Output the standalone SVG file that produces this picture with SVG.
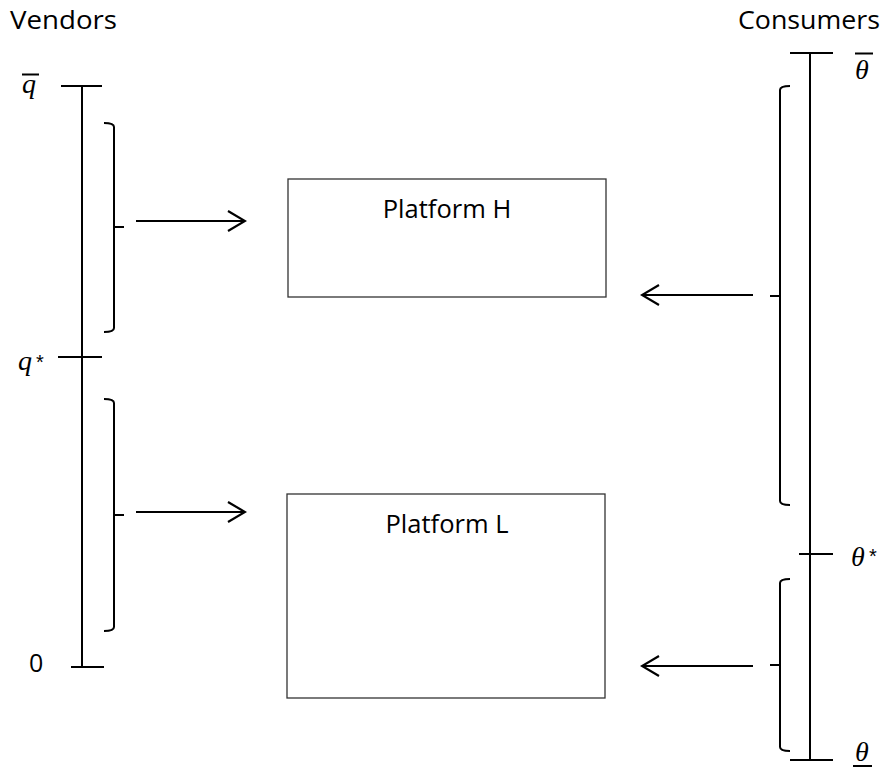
<svg xmlns="http://www.w3.org/2000/svg" width="884" height="769" viewBox="0 0 884 769">
<style>
.ax{stroke:#000;stroke-width:2;fill:none}
.br{stroke:#000;stroke-width:2;fill:none}
.box{fill:#fff;stroke:#333;stroke-width:1.3}
.lbl{font-family:"Open Sans","Liberation Sans",sans-serif;font-size:25.5px;fill:#000}
.hd{font-family:"Open Sans","Liberation Sans",sans-serif;font-size:26px;fill:#000}
.m{font-family:"Liberation Serif","DejaVu Serif",serif;font-style:italic;font-size:28px;fill:#000}
.mr{font-family:"Liberation Sans","DejaVu Sans",sans-serif;font-size:20px;fill:#000}
.arr{stroke:#000;stroke-width:2;fill:none}
</style>
<defs>
<marker id="ah" viewBox="0 0 20 24" refX="18" refY="12" markerWidth="20" markerHeight="24" markerUnits="userSpaceOnUse" orient="auto">
<path d="M1,2 L18,12 L1,22" fill="none" stroke="#000" stroke-width="2.2"/>
</marker>
</defs>
<g id="vendors-axis">
<text class="hd" x="10" y="28.5" textLength="107" lengthAdjust="spacingAndGlyphs">Vendors</text>
<line class="ax" x1="82" y1="86" x2="82" y2="667"/>
<line class="ax" x1="61" y1="86" x2="102" y2="86"/>
<line class="ax" x1="58" y1="357" x2="102" y2="357"/>
<line class="ax" x1="71" y1="667" x2="104" y2="667"/>
<text class="m" x="22" y="93">q</text>
<line x1="22" y1="74.5" x2="39" y2="74.5" stroke="#000" stroke-width="2"/>
<text class="m" x="18" y="370">q</text>
<text class="mr" x="36" y="369">*</text>
<text class="hd" x="29" y="672" style="font-size:25px">0</text>
</g>
<g id="consumers-axis">
<text class="hd" x="738" y="28.5" textLength="142" lengthAdjust="spacingAndGlyphs">Consumers</text>
<line class="ax" x1="810" y1="53" x2="810" y2="760"/>
<line class="ax" x1="790" y1="53" x2="833" y2="53"/>
<line class="ax" x1="799" y1="554" x2="833" y2="554"/>
<line class="ax" x1="790" y1="760" x2="833" y2="760"/>
<text class="m" x="855" y="79">θ</text>
<line x1="855" y1="53.5" x2="873" y2="53.5" stroke="#000" stroke-width="2"/>
<text class="m" x="851" y="566">θ</text>
<text class="mr" x="869" y="563">*</text>
<text class="m" x="855" y="761">θ</text>
<line x1="853" y1="766" x2="872" y2="766" stroke="#000" stroke-width="2"/>
</g>
<g id="vendor-bracket-high">
<path class="br" d="M104,123 Q114,123 114,127 L114,328 Q114,332 104,332 M114,227 L124,227"/>
</g>
<g id="vendor-bracket-low">
<path class="br" d="M104,399 Q114,399 114,403 L114,627 Q114,631 104,631 M114,515 L124,515"/>
</g>
<g id="consumer-bracket-high">
<path class="br" d="M790,86 Q780,86 780,90 L780,501 Q780,505 790,505 M780,296 L770,296"/>
</g>
<g id="consumer-bracket-low">
<path class="br" d="M790,579 Q780,579 780,583 L780,747 Q780,751 790,751 M780,665 L770,665"/>
</g>
<g id="platform-h">
<rect class="box" x="288" y="179" width="318" height="118"/>
<text class="lbl" x="447" y="218" text-anchor="middle">Platform H</text>
</g>
<g id="platform-l">
<rect class="box" x="287" y="494" width="318" height="204"/>
<text class="lbl" x="447" y="533" text-anchor="middle">Platform L</text>
</g>
<g id="connectors">
<line class="arr" x1="136" y1="221" x2="245" y2="221" marker-end="url(#ah)"/>
<line class="arr" x1="136" y1="512" x2="245" y2="512" marker-end="url(#ah)"/>
<line class="arr" x1="753" y1="295" x2="642" y2="295" marker-end="url(#ah)"/>
<line class="arr" x1="753" y1="666" x2="642" y2="666" marker-end="url(#ah)"/>
</g>
</svg>
